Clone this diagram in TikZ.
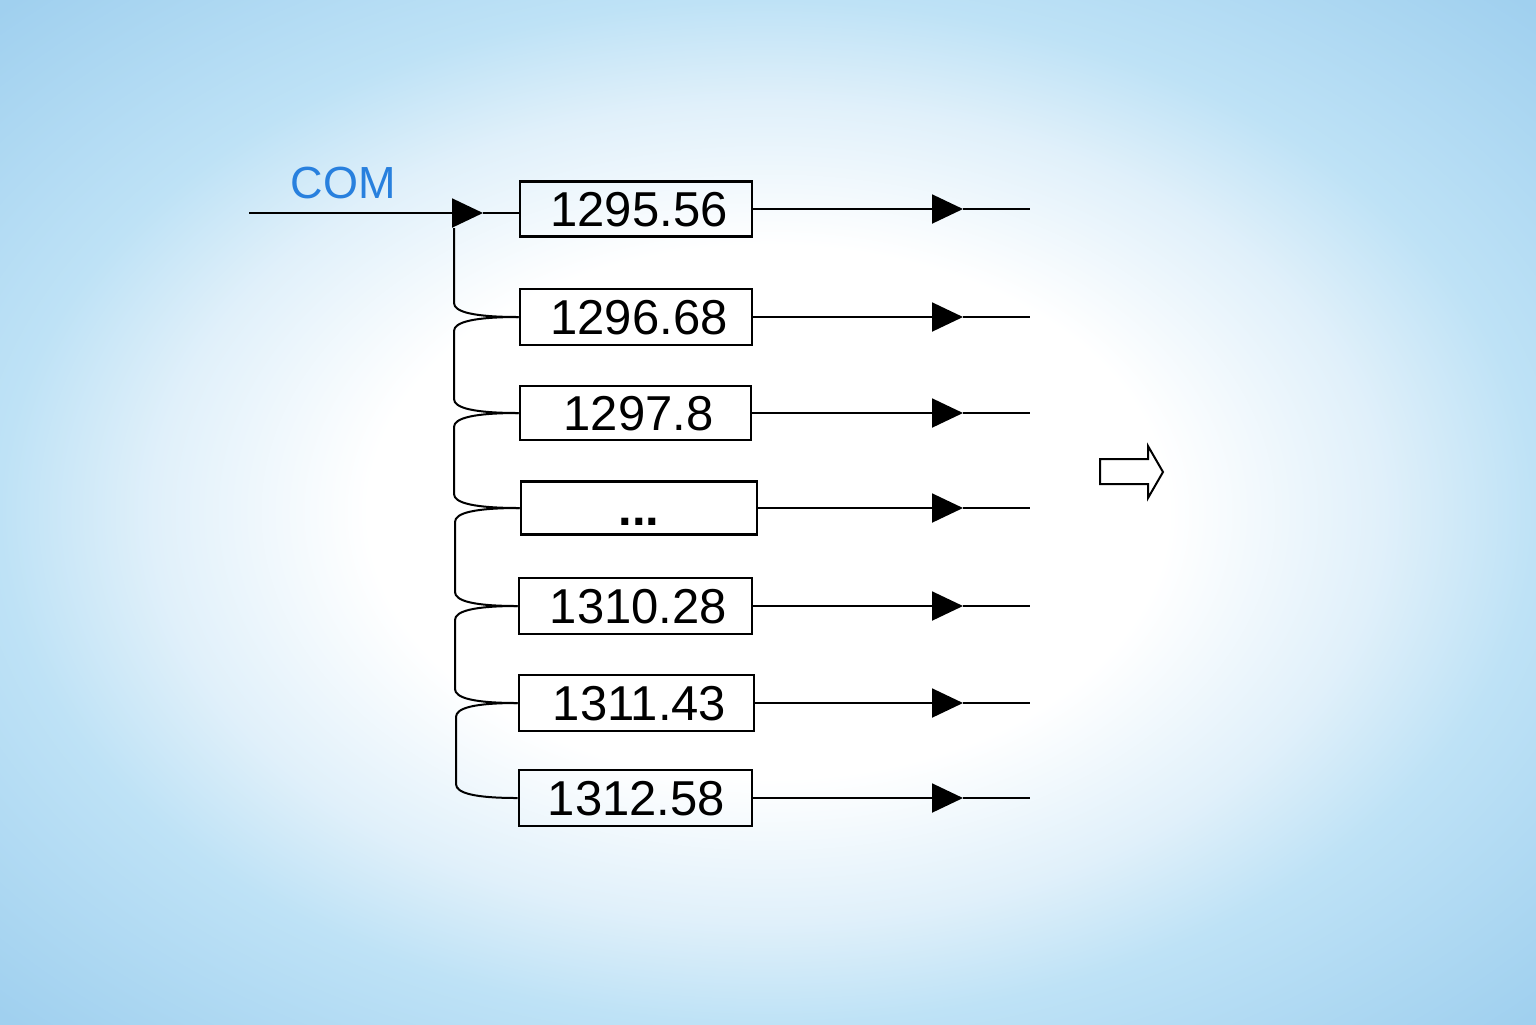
\documentclass[tikz,border=0pt]{standalone}
\usepackage{fontspec}
\setmainfont{Liberation Sans}
\usetikzlibrary{arrows.meta}
\definecolor{bgedge}{RGB}{160,208,239}
\definecolor{bgmid}{RGB}{190,226,246}
\definecolor{bginner}{RGB}{224,240,250}
\definecolor{comblue}{RGB}{40,128,222}
\pgfdeclareradialshading{bgshade}{\pgfpoint{0bp}{0bp}}{color(0bp)=(white); color(13bp)=(white); color(20bp)=(bginner); color(25bp)=(bgmid); color(35bp)=(bgedge); color(50bp)=(bgedge)}
\begin{document}
\begin{tikzpicture}[x=0.5pt,y=-0.5pt,
 valbox/.style={draw=black, line width=1.3pt, inner sep=0pt, text height=17.5pt, text depth=0pt,
   font=\fontsize{24.5pt}{29pt}\selectfont, minimum height=27.5pt},
 conn/.style={line width=1pt, black},
 arr/.style={line width=1pt, black, -{Triangle[length=15.5pt,width=14.5pt]}}]
\useasboundingbox (0,0) rectangle (1536,1024);
\shade[shading=bgshade] (0,0) rectangle (1536,1024);

% value boxes
\node[valbox, minimum width=116pt] (b1) at (636,209) {\hspace{3pt}1295.56};
\node[valbox, minimum width=116pt, minimum height=28pt] (b2) at (636,317) {\hspace{3pt}1296.68};
\node[valbox, minimum width=115.5pt, minimum height=27pt] (b3) at (635.5,413) {\hspace{3pt}1297.8};
\node[valbox, minimum width=118pt, minimum height=26.5pt] (b4) at (639,508) {\bfseries ...};
\node[valbox, minimum width=116.5pt, minimum height=28pt] (b5) at (635.5,606) {\hspace{3pt}1310.28};
\node[valbox, minimum width=117.5pt, minimum height=28pt] (b6) at (636.5,703) {\hspace{3pt}1311.43};
\node[valbox, minimum width=116.5pt, minimum height=28pt] (b7) at (635.5,798) {\hspace{1pt}1312.58};

% COM input
\node[text=comblue, font=\fontsize{22.5pt}{27pt}\selectfont, inner sep=0pt] (com) at (343,183) {COM};
\coordinate (start) at (249,213);
\coordinate (ctip) at (483,213);
\draw[arr] (start) -- (ctip);
\draw[conn] (ctip) -- (ctip -| b1.west);

% left bus connectors
\coordinate (c0) at (454,228);
\draw[conn] (c0) -- (454,303) .. controls (454,312) and (474,317) .. (b2.west);
\draw[conn] (b2.west) .. controls (474,317) and (454,322) .. (454,331) -- (454,399) .. controls (454,408) and (474,413) .. (b3.west);
\draw[conn] (b3.west) .. controls (474,413) and (454,418) .. (454,427) -- (454,494) .. controls (454,503) and (474,508) .. (b4.west);
\draw[conn] (b4.west) .. controls (474,508) and (455,513) .. (455,522) -- (455,592) .. controls (455,601) and (474,606) .. (b5.west);
\draw[conn] (b5.west) .. controls (474,606) and (455,611) .. (455,620) -- (455,689) .. controls (455,698) and (474,703) .. (b6.west);
\draw[conn] (b6.west) .. controls (474,703) and (456,708) .. (456,717) -- (456,784) .. controls (456,793) and (474,798) .. (b7.west);

% outputs
\coordinate (tx) at (963,0);
\coordinate (ex) at (1030,0);
\foreach \b in {b1,b2,b3,b4,b5,b6,b7}{
  \draw[arr] (\b.east) -- (\b.east -| tx);
  \draw[conn] (\b.east -| tx) -- (\b.east -| ex);
}

% hollow arrow
\draw[line width=1pt, line join=miter] (1100,459) -- (1148,459) -- (1148,446) -- (1163,472) -- (1148,498) -- (1148,484) -- (1100,484) -- cycle;
\end{tikzpicture}
\end{document}
